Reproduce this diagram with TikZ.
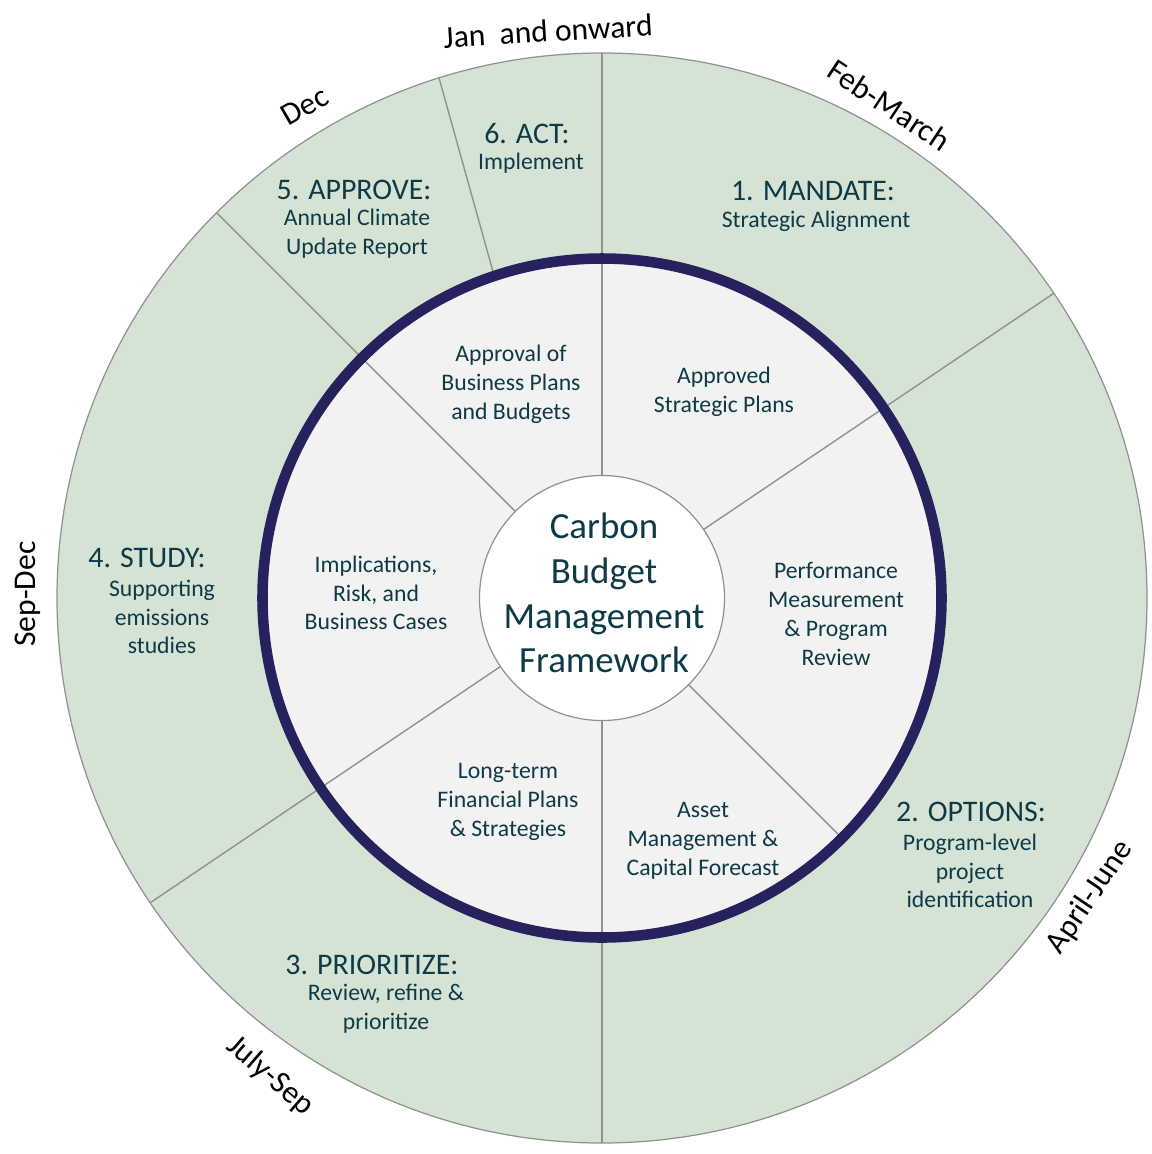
\documentclass[tikz,border=0pt]{standalone}
\usepackage{fontspec}
\setmainfont{Carlito}
\definecolor{segG}{RGB}{213,227,212}
\definecolor{segI}{RGB}{242,242,242}
\definecolor{ringC}{RGB}{38,34,94}
\definecolor{txtC}{RGB}{14,58,72}
\definecolor{lineC}{RGB}{145,145,145}
\begin{document}
\begin{tikzpicture}[x=0.02cm,y=0.02cm,
  sep/.style={draw=lineC,line width=0.8pt},
  hd/.style={text=txtC,inner sep=0pt,font=\fontsize{17pt}{20pt}\selectfont},
  bd/.style={text=txtC,inner sep=0pt,align=center,font=\fontsize{13.5pt}{16.4pt}\selectfont},
  ctr/.style={text=txtC,inner sep=0pt,align=center,font=\fontsize{21pt}{25.5pt}\selectfont},
  mo/.style={text=black,inner sep=0pt,font=\fontsize{18pt}{22pt}\selectfont}]
\useasboundingbox (0,0) rectangle (1152,-1154);
\begin{scope}[shift={(602,-598)}]
  \fill[segG] (0,0) circle (545);
  \draw[lineC,line width=0.7pt] (0,0) circle (545);
  \fill[segI] (0,0) circle (340);
  \foreach \a in {90,34,-90,214,135} \draw[sep] (\a:123) -- (\a:545);
  \draw[sep] (-45:123) -- (-45:340);
  \draw[sep] (108.5:340) -- (107.4:545);
  \draw[ringC,line width=6pt] (0,0) circle (339.5);
  \draw[lineC,line width=0.7pt,fill=white] (0,0) circle (122.5);
\end{scope}
% outer segment texts
\node[hd] (h1) at (813,-191) {1. MANDATE:};
\node[bd] (b1) at (816,-221) {Strategic Alignment};
\node[hd] (h2) at (971,-812) {2. OPTIONS:};
\node[bd] (b2) at (970,-871) {Program-level\\project\\identification};
\node[hd] (h3) at (372,-965) {3. PRIORITIZE:};
\node[bd] (b3) at (386,-1009) {Review, refine \&\\prioritize};
\node[hd] (h4) at (147,-558) {4. STUDY:};
\node[bd] (b4) at (162,-617) {Supporting\\emissions\\studies};
\node[hd] (h5) at (354,-190) {5. APPROVE:};
\node[bd] (b5) at (357,-234) {Annual Climate\\Update Report};
\node[hd] (h6) at (527,-134) {6. ACT:};
\node[bd] (b6) at (531,-163) {Implement};
% inner segment texts
\node[bd] (i1) at (511,-384) {Approval of\\Business Plans\\and Budgets};
\node[bd] (i2) at (724,-392) {Approved\\Strategic Plans};
\node[bd] (i3) at (836,-614) {Performance\\Measurement\\\& Program\\Review};
\node[bd] (i4) at (703,-841) {Asset\\Management \&\\Capital Forecast};
\node[bd] (i5) at (508,-802) {Long-term\\Financial Plans\\\& Strategies};
\node[bd] (i6) at (376,-593) {Implications,\\Risk, and\\Business Cases};
\node[ctr] (c) at (604,-593) {Carbon\\Budget\\Management\\Framework};
% month labels
\node[mo,rotate=3.5] (m1) at (548,-31) {Jan~~and onward};
\node[mo,rotate=-33.5] (m2) at (889,-105) {Feb-March};
\node[mo,rotate=30] (m3) at (305,-106) {Dec};
\node[mo,rotate=90] (m4) at (28,-594) {Sep-Dec};
\node[mo,rotate=-41] (m5) at (270,-1076) {July-Sep};
\node[mo,rotate=56] (m6) at (1090,-897) {April-June};
\end{tikzpicture}
\end{document}
